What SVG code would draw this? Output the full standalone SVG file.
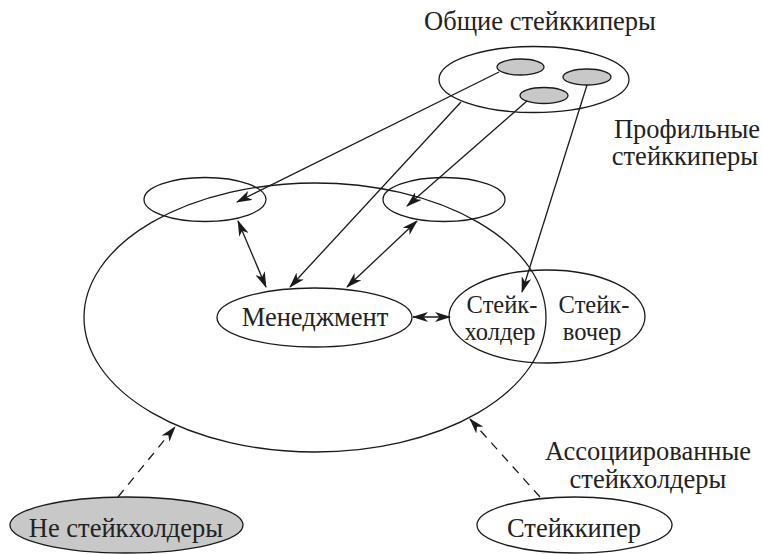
<svg xmlns="http://www.w3.org/2000/svg" width="763" height="554" viewBox="0 0 763 554">
<defs>
<marker id="ah" markerUnits="userSpaceOnUse" markerWidth="16" markerHeight="10" refX="15" refY="5" orient="auto-start-reverse" viewBox="0 0 16 10">
<path d="M0,0 L16,5 L0,10 L4.5,5 Z" fill="#1a1a1a"/>
</marker>
</defs>
<style>
.e{fill:none;stroke:#1a1a1a;stroke-width:1.3}
.g{fill:#c8c8c8;stroke:#1a1a1a;stroke-width:1.3}
text{font-family:'Liberation Serif',serif;font-size:26.5px;fill:#222}
text.s{font-size:24.5px}
.c{stroke:#1a1a1a;stroke-width:1.3;fill:none}
.a{marker-end:url(#ah)}
.d{marker-start:url(#ah);marker-end:url(#ah)}
.dash{stroke-dasharray:9,7}
</style>
<g id="big">
<ellipse class="e" cx="315" cy="317.5" rx="231" ry="134.5"/>
</g>
<g id="general">
<ellipse class="e" cx="534" cy="79.5" rx="95" ry="33"/>
<ellipse class="g" cx="520.5" cy="67" rx="23.5" ry="8"/>
<ellipse class="g" cx="587" cy="77" rx="24" ry="8"/>
<ellipse class="g" cx="544" cy="95.5" rx="24" ry="8"/>
<text x="540" y="30" text-anchor="middle">Общие стейккиперы</text>
</g>
<g id="profile-label">
<text text-anchor="end"><tspan x="760" y="138">Профильные</tspan><tspan x="758" y="165">стейккиперы</tspan></text>
</g>
<g id="profile-left">
<ellipse class="e" cx="205" cy="199.5" rx="61" ry="22"/>
</g>
<g id="profile-right">
<ellipse class="e" cx="444" cy="199.5" rx="61" ry="22"/>
</g>
<g id="management">
<ellipse class="e" cx="314.5" cy="317.5" rx="97.5" ry="29.5"/>
<text x="315" y="326" text-anchor="middle">Менеджмент</text>
</g>
<g id="stakeholder">
<ellipse class="e" cx="547" cy="316.5" rx="98" ry="46.5"/>
<text class="s" text-anchor="middle"><tspan x="502" y="313">Стейк-</tspan><tspan x="500" y="340">холдер</tspan></text>
<text class="s" text-anchor="middle"><tspan x="594" y="313">Стейк-</tspan><tspan x="592" y="340">вочер</tspan></text>
</g>
<g id="assoc-label">
<text text-anchor="middle"><tspan x="648" y="460">Ассоциированные</tspan><tspan x="648" y="488">стейкхолдеры</tspan></text>
</g>
<g id="non-stakeholders">
<ellipse class="g" cx="126.5" cy="525" rx="116.5" ry="28"/>
<text x="126" y="537" text-anchor="middle">Не стейкхолдеры</text>
</g>
<g id="stakekeeper">
<ellipse class="e" cx="574.5" cy="525" rx="97.5" ry="28"/>
<text x="574" y="537" text-anchor="middle">Стейккипер</text>
</g>
<g id="connectors">
<line class="c a" x1="499" y1="72" x2="237" y2="202"/>
<line class="c a" x1="461" y1="102" x2="290" y2="287"/>
<line class="c a" x1="527" y1="101" x2="407" y2="206"/>
<line class="c a" x1="587" y1="85" x2="522" y2="292"/>
<line class="c d" x1="238" y1="221" x2="266" y2="287"/>
<line class="c d" x1="417" y1="221" x2="347" y2="287"/>
<line class="c d" x1="413" y1="317" x2="450" y2="317"/>
<line class="c a dash" x1="118" y1="497" x2="175" y2="427"/>
<line class="c a dash" x1="540" y1="497" x2="470" y2="419"/>
</g>
</svg>
